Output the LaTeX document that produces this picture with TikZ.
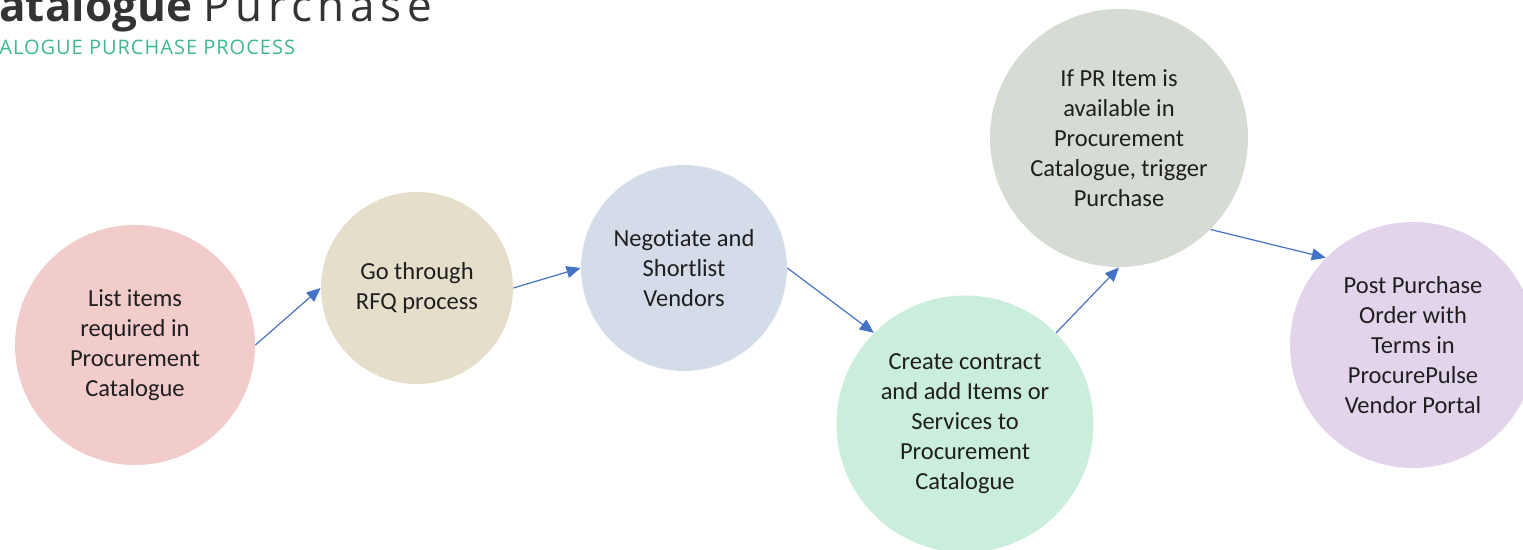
\documentclass[tikz,border=0pt]{standalone}
\usepackage{fontspec}
\setmainfont{Carlito}[Ligatures=NoCommon]
\newfontfamily\headfont{Open Sans}
\usetikzlibrary{arrows.meta}
\definecolor{titlegray}{HTML}{333333}
\definecolor{subteal}{HTML}{3DB893}
\definecolor{arrowblue}{HTML}{4472C4}
\definecolor{stagepink}{HTML}{F2CBCB}
\definecolor{stagesand}{HTML}{E4DECA}
\definecolor{stageblue}{HTML}{D5DCE9}
\definecolor{stagemint}{HTML}{CBEEDC}
\definecolor{stagesage}{HTML}{D6DCD3}
\definecolor{stagelilac}{HTML}{E2D5EB}
\tikzset{
  stage/.style={circle,fill=#1,align=center,inner sep=0pt,text=black!88,
    font=\fontsize{12.25}{15}\selectfont},
  line/.style={-{Triangle[length=7pt,width=6pt]},draw=arrowblue,line width=0.6pt}
}

\begin{document}
\begin{tikzpicture}[x=0.5pt,y=-0.5pt]
\useasboundingbox (0,0) rectangle (1523,550);
\node[anchor=base west,inner sep=0pt,text=titlegray,font=\headfont\fontsize{22}{25}\selectfont] (title) at (-1,22)
  {\textbf{atalogue} \addfontfeature{LetterSpace=13}Purchase};
\node[anchor=base west,inner sep=0pt,text=subteal,font=\headfont\fontsize{10}{12}\selectfont] (subtitle) at (-1,55)
  {\addfontfeature{LetterSpace=5}ALOGUE PURCHASE PROCESS};

\node[stage=stagepink,minimum size=120pt] (list) at (135,345) {List items\\required in\\Procurement\\Catalogue};
\node[stage=stagesand,minimum size=96pt] (rfq) at (417,288) {Go through\\RFQ process};
\node[stage=stageblue,minimum size=103pt] (vendors) at (684,268) {Negotiate and\\Shortlist\\Vendors};
\node[stage=stagemint,minimum size=128.5pt] (contract) at (965,424) {Create contract\\and add Items or\\Services to\\Procurement\\Catalogue};
\node[stage=stagesage,minimum size=129pt] (trigger) at (1119,138) {If PR Item is\\available in\\Procurement\\Catalogue, trigger\\Purchase};
\node[stage=stagelilac,minimum size=123pt] (order) at (1413,345) {Post Purchase\\Order with\\Terms in\\ProcurePulse\\Vendor Portal};

\draw[line] (list.east) -- (rfq.west);
\draw[line] (rfq.east) -- (vendors.west);
\draw[line] (vendors.east) -- (contract.north west);
\draw[line] (contract.north east) -- (trigger.south);
\draw[line] (trigger.south east) -- (order.north west);
\end{tikzpicture}
\end{document}
